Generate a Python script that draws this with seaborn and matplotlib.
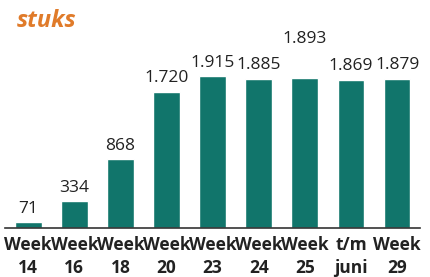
import numpy as np
import pandas as pd
import seaborn as sns
import matplotlib.pyplot as plt

# data
weeks = ["Week\n14", "Week\n16", "Week\n18", "Week\n20", "Week\n23",
         "Week\n24", "Week\n25", "t/m\njuni", "Week\n29"]
stuks = [71, 334, 868, 1720, 1915, 1885, 1893, 1869, 1879]
labels = ["71", "334", "868", "1.720", "1.915", "1.885", "1.893", "1.869", "1.879"]

df = pd.DataFrame({"week": weeks, "stuks": stuks})

sns.set_style("white")
plt.rcParams["font.family"] = ["Open Sans", "DejaVu Sans"]

fig = plt.figure(figsize=(4.3, 2.77), dpi=100)
ax = fig.add_axes([0.012, 0.177, 0.965, 0.548])

sns.barplot(data=df, x="week", y="stuks", color="#11756b", saturation=1,
            width=0.58, ax=ax)

ax.set_ylim(0, 1915)
ax.set_xlim(-0.5, len(weeks) - 0.5)
ax.set_xlabel("")
ax.set_ylabel("")
ax.set_yticks([])
for s in ["top", "right", "left"]:
    ax.spines[s].set_visible(False)
ax.spines["bottom"].set_color("#333333")
ax.spines["bottom"].set_linewidth(1.2)
ax.tick_params(axis="x", length=0, pad=6)
for t in ax.get_xticklabels():
    t.set_fontsize(12.5)
    t.set_fontweight("bold")
    t.set_color("#222222")
    t.set_linespacing(1.3)

# value labels; the 1.893 one sits higher in the original
for i, (v, lab) in enumerate(zip(stuks, labels)):
    extra = 18 if i == 6 else 0
    ax.annotate(lab, (i, v), xytext=(0, 4 + extra), textcoords="offset points",
                ha="center", va="bottom", fontsize=12.5, color="#222222",
                annotation_clip=False)

fig.text(0.04, 0.925, "stuks", fontsize=17, fontweight="bold",
         fontstyle="italic", color="#e07b2a", ha="left", va="center")

plt.savefig("out.png", dpi=100)
plt.close()
